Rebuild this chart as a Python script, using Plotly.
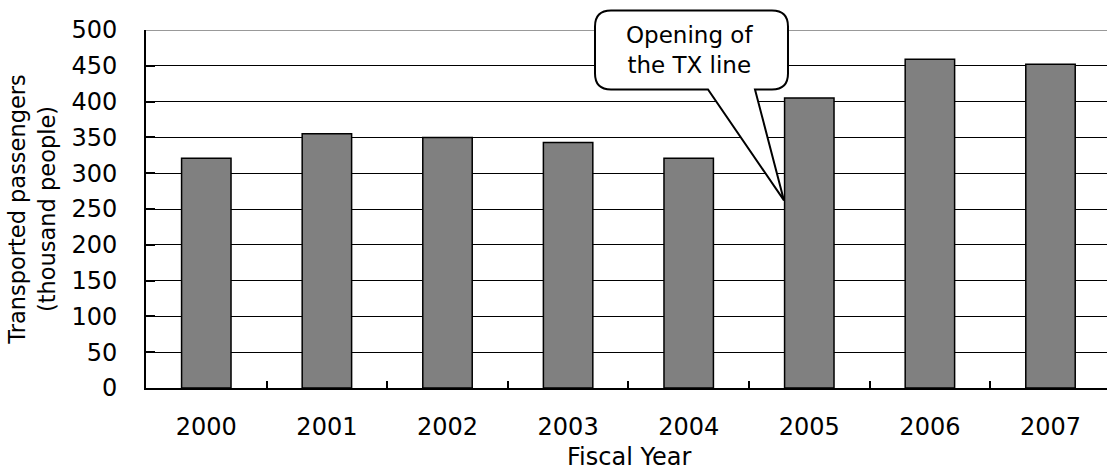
import plotly.graph_objects as go

years = ["2000", "2001", "2002", "2003", "2004", "2005", "2006", "2007"]
passengers = [321, 355, 350, 343, 321, 405, 459, 452]
y_ticks = [0, 50, 100, 150, 200, 250, 300, 350, 400, 450, 500]
callout_text = "Opening of<br>the TX line"
callout_year_index = 5
callout_value = 262

W, H = 1107, 470
L, T, B = 146, 29.5, 82
PW = W - L
PH = H - T - B
FONT = "DejaVu Sans"

x_idx = list(range(len(years)))
unit = 120.6
x_max = -0.5 + PW / unit

fig = go.Figure()
fig.add_trace(go.Bar(
    x=x_idx, y=passengers, width=0.41,
    marker=dict(color="#808080", line=dict(color="black", width=1.5)),
    hoverinfo="x+y",
))

def px2paper(px, py):
    return (px - L) / PW, (H - B - py) / PH

# callout bubble (pixel geometry, converted to paper coords)
bx0, bx1, by0, by1, r = 595, 788, 10, 89, 16
tip_px = L + (callout_year_index - 0.21 + 0.5) * unit
tip_py = (H - B) - callout_value / 500 * PH
pts = [
    ("M", bx0 + r, by0),
    ("L", bx1 - r, by0),
    ("Q", bx1, by0, bx1, by0 + r),
    ("L", bx1, by1 - r),
    ("Q", bx1, by1, bx1 - r, by1),
    ("L", 755, by1),
    ("L", tip_px, tip_py),
    ("L", 708, by1),
    ("L", bx0 + r, by1),
    ("Q", bx0, by1, bx0, by1 - r),
    ("L", bx0, by0 + r),
    ("Q", bx0, by0, bx0 + r, by0),
]
path = ""
for p in pts:
    cmd = p[0]
    coords = p[1:]
    s = []
    for i in range(0, len(coords), 2):
        xx, yy = px2paper(coords[i], coords[i + 1])
        s.append(f"{xx:.5f},{yy:.5f}")
    path += cmd + " ".join(s) + " "
path += "Z"

fig.add_shape(type="line", xref="paper", yref="y", x0=0, x1=1, y0=500, y1=500,
              line=dict(color="#999999", width=2), layer="above")
fig.add_shape(type="path", xref="paper", yref="paper", path=path,
              fillcolor="white", line=dict(color="black", width=2), layer="above")

cx, cy = px2paper((bx0 + bx1) / 2 - 2, (by0 + by1) / 2)
fig.add_annotation(x=cx, y=cy, xref="paper", yref="paper", text=callout_text,
                   showarrow=False, font=dict(family=FONT, size=23, color="black"),
                   align="center", xanchor="center", yanchor="middle")

fx, fy = px2paper(629, 457)
fig.add_annotation(x=fx, y=fy, xref="paper", yref="paper", text="Fiscal Year",
                   showarrow=False, font=dict(family=FONT, size=24, color="black"),
                   xanchor="center", yanchor="middle")

fig.update_layout(
    width=W, height=H,
    margin=dict(l=L, r=0, t=T, b=B, autoexpand=False),
    paper_bgcolor="white", plot_bgcolor="white",
    showlegend=False,
    font=dict(family=FONT, size=22, color="black"),
    xaxis=dict(
        range=[-0.5, x_max], tickmode="array", tickvals=x_idx, ticktext=years,
        showgrid=False, zeroline=False,
        showline=True, linecolor="black", linewidth=2,
        ticks="outside", ticklen=16, tickcolor="rgba(0,0,0,0)", tickwidth=0.1,
        tickfont=dict(family=FONT, size=24),
        minor=dict(tickvals=[i + 0.5 for i in range(len(years) - 1)],
                   ticks="inside", ticklen=7, tickcolor="black", tickwidth=1.5,
                   showgrid=False),
    ),
    yaxis=dict(
        range=[0, 500], tickmode="array", tickvals=y_ticks,
        showgrid=True, gridcolor="black", gridwidth=1,
        zeroline=False, showline=True, linecolor="black", linewidth=2,
        ticks="inside", ticklen=9, tickcolor="black", tickwidth=1.5,
        ticklabelstandoff=22,
        tickfont=dict(family=FONT, size=24),
        title=dict(text="Transported passengers<br>(thousand people)",
                   font=dict(family=FONT, size=22.5), standoff=10),
    ),
    bargap=0.5,
)

fig.write_html("out.html", config={"displayModeBar": False},
               post_script="document.body.style.margin='0';document.body.style.overflow='hidden';")
